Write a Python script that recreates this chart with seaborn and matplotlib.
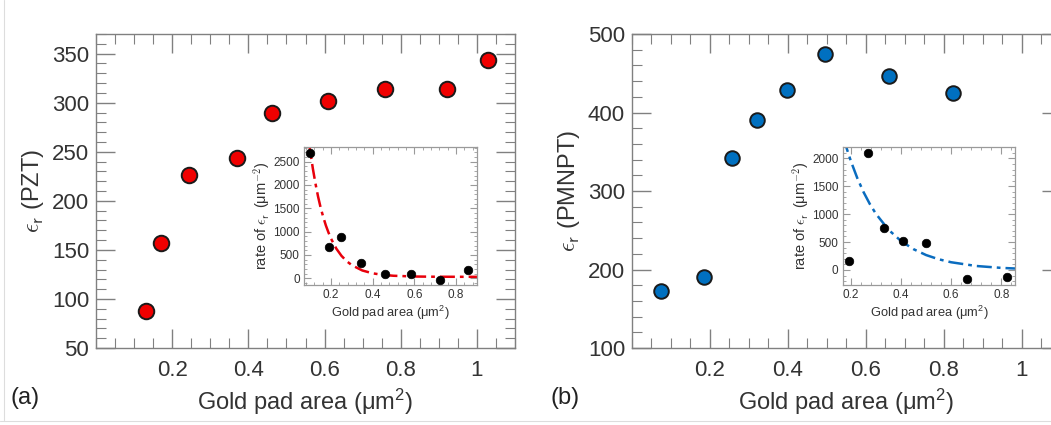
import matplotlib
matplotlib.use("Agg")
import matplotlib.pyplot as plt
from matplotlib.ticker import MultipleLocator, FuncFormatter
from matplotlib.lines import Line2D
import seaborn as sns

# panel (a): PZT
pzt_area = [0.132, 0.170, 0.243, 0.371, 0.461, 0.609, 0.758, 0.922, 1.030]
pzt_eps = [88, 157, 226, 244, 289, 302, 314, 314, 344]
pzt_rate_area = [0.101, 0.189, 0.248, 0.343, 0.459, 0.581, 0.724, 0.855]
pzt_rate = [2680, 677, 891, 334, 92, 92, -36, 170]
pzt_fit_area = [0.09, 0.10, 0.1125, 0.125, 0.1375, 0.15, 0.1625, 0.175, 0.1875, 0.2, 0.225,
                0.25, 0.275, 0.3, 0.35, 0.4, 0.45, 0.5, 0.6, 0.7, 0.8, 0.9]
pzt_fit_rate = [3060, 2720, 2350, 2030, 1750, 1510, 1310, 1130, 980, 846, 635,
                479, 365, 278, 166, 105, 71, 53, 37, 32, 31, 30]

# panel (b): PMNPT
pmnpt_area = [0.074, 0.185, 0.257, 0.322, 0.397, 0.495, 0.660, 0.824]
pmnpt_eps = [172, 190, 342, 391, 429, 475, 446, 425]
pmnpt_rate_area = [0.193, 0.269, 0.332, 0.406, 0.499, 0.662, 0.822]
pmnpt_rate = [167, 2090, 747, 519, 478, -167, -125]
pmnpt_fit_area = [0.17, 0.185, 0.2, 0.225, 0.25, 0.275, 0.3, 0.35, 0.4, 0.45, 0.5,
                  0.55, 0.6, 0.7, 0.8, 0.87]
pmnpt_fit_rate = [2375, 2150, 1947, 1650, 1398, 1185, 1004, 721, 518, 372, 267,
                  192, 138, 71, 37, 23]

sns.set_theme(style="ticks")
plt.rcParams['font.family'] = ['Liberation Sans', 'DejaVu Sans']
plt.rcParams['mathtext.fontset'] = 'custom'
plt.rcParams['mathtext.rm'] = 'Liberation Sans'
plt.rcParams['mathtext.it'] = 'Liberation Sans:italic'

SPINE = '#808080'
TXT = '#333333'
fmt = FuncFormatter(lambda v, p: '%g' % v)
XLAB = r'Gold pad area (μm$^{2}$)'


def style_main(ax, ymin, ymax, ymaj, ymin_step):
    ax.set_xlim(0, 1.1)
    ax.set_ylim(ymin, ymax)
    ax.xaxis.set_minor_locator(MultipleLocator(0.05))
    ax.yaxis.set_major_locator(MultipleLocator(ymaj))
    ax.yaxis.set_minor_locator(MultipleLocator(ymin_step))
    ax.set_xticks([0.2, 0.4, 0.6, 0.8, 1.0])
    ax.xaxis.set_major_formatter(fmt)
    ax.tick_params(which='both', direction='in', top=True, right=True,
                   colors=SPINE, labelcolor=TXT, labelsize=16)
    ax.tick_params(which='major', length=14, width=1)
    ax.tick_params(which='minor', length=7, width=0.8)
    ax.tick_params(axis='x', pad=9)
    ax.tick_params(axis='y', pad=5)
    for s in ax.spines.values():
        s.set_color(SPINE)
        s.set_linewidth(1.0)
    ax.set_xlabel(XLAB, fontsize=17, color=TXT, labelpad=4)


def style_inset(ax, xlim, ylim, ymaj):
    ax.set_xlim(*xlim)
    ax.set_ylim(*ylim)
    ax.set_xticks([0.2, 0.4, 0.6, 0.8])
    ax.xaxis.set_major_formatter(fmt)
    ax.xaxis.set_minor_locator(MultipleLocator(0.04))
    ax.yaxis.set_major_locator(MultipleLocator(ymaj))
    ax.yaxis.set_minor_locator(MultipleLocator(100))
    ax.tick_params(which='both', direction='in', top=True, right=True,
                   colors='#9a9a9a', labelcolor=TXT, labelsize=8.5, pad=3)
    ax.tick_params(which='major', length=5, width=0.8)
    ax.tick_params(which='minor', length=2.5, width=0.6)
    for s in ax.spines.values():
        s.set_color('#9a9a9a')
        s.set_linewidth(0.9)
    ax.set_xlabel(XLAB, fontsize=9.3, color=TXT, labelpad=2)
    ax.set_ylabel(r'rate of $\epsilon_{\mathsf{r}}\,$ (μm$^{\mathsf{-2}}$)', fontsize=10.5,
                  color=TXT, labelpad=1, math_fontfamily='cm')


fig = plt.figure(figsize=(10.51, 4.25), dpi=100)

# left panel
ax_a = fig.add_axes([96 / 1051, 77 / 425, 419 / 1051, 314 / 425])
sns.scatterplot(x=pzt_area, y=pzt_eps, ax=ax_a, color='#f00000', s=125,
                edgecolor='#1a1a1a', linewidth=1.4, zorder=3)
style_main(ax_a, 50, 370, 50, 10)
ax_a.set_ylabel(r'$\epsilon_{\mathsf{r}}$ (PZT)', fontsize=17, color=TXT, labelpad=4,
                math_fontfamily='cm')

ins_a = fig.add_axes([304 / 1051, 140 / 425, 173 / 1051, 138.3 / 425])
sns.lineplot(x=pzt_fit_area, y=pzt_fit_rate, ax=ins_a, color='#e8000b',
             linewidth=1.8, zorder=2)
ins_a.lines[0].set_dashes([6, 2, 1.5, 2])
sns.scatterplot(x=pzt_rate_area, y=pzt_rate, ax=ins_a, color='black', s=38,
                edgecolor='black', linewidth=0.5, zorder=3)
style_inset(ins_a, (0.07, 0.9), (-145, 2820), 500)

# right panel (its right edge runs past the figure edge)
ax_b = fig.add_axes([632 / 1051, 77 / 425, 428.6 / 1051, 314 / 425])
sns.scatterplot(x=pmnpt_area, y=pmnpt_eps, ax=ax_b, color='#0070c0', s=110,
                edgecolor='#1a1a1a', linewidth=1.4, zorder=3)
style_main(ax_b, 100, 500, 100, 20)
ax_b.set_ylabel(r'$\epsilon_{\mathsf{r}}$ (PMNPT)', fontsize=17, color=TXT, labelpad=4,
                math_fontfamily='cm')

ins_b = fig.add_axes([842.7 / 1051, 140 / 425, 172.3 / 1051, 138.3 / 425])
sns.lineplot(x=pmnpt_fit_area, y=pmnpt_fit_rate, ax=ins_b, color='#0a6cbf',
             linewidth=1.8, zorder=2)
ins_b.lines[0].set_dashes([6, 2, 1.5, 2])
sns.scatterplot(x=pmnpt_rate_area, y=pmnpt_rate, ax=ins_b, color='black', s=38,
                edgecolor='black', linewidth=0.5, zorder=3)
style_inset(ins_b, (0.167, 0.855), (-270, 2210), 500)

fig.text(10 / 1051, 1 - 398 / 425, '(a)', fontsize=17, color='#222222', va='center')
fig.text(550 / 1051, 1 - 398 / 425, '(b)', fontsize=17, color='#222222', va='center')

# faint frame of the source image
fig.add_artist(Line2D([4 / 1051, 4 / 1051], [1 - 420 / 425, 1], color='#dddddd', lw=0.8))
fig.add_artist(Line2D([0, 1], [1 - 420.5 / 425] * 2, color='#dddddd', lw=0.8))

fig.savefig('out.png', dpi=100)
